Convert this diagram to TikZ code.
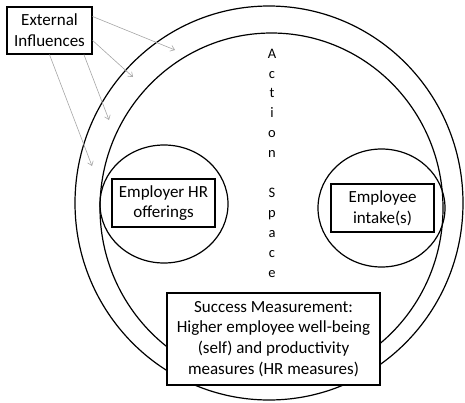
\documentclass[tikz,border=0pt]{standalone}
\usepackage{fontspec}
\setmainfont{Carlito}
\usetikzlibrary{arrows.meta}

\begin{document}
\begin{tikzpicture}[x=1pt,y=-1pt,
    every node/.style={font=\fontsize{17}{20.7}\selectfont},
    box/.style={draw, line width=1.2pt, fill=white, align=center, inner sep=0pt},
    ring/.style={line width=1.2pt},
    influence/.style={-{Straight Barb[length=4pt,width=6pt]}, draw=black!35, line width=0.6pt}]

    \useasboundingbox (0,0) rectangle (465,402);

    % outer and inner rings
    \draw[ring] (269,203) ellipse [x radius=194, y radius=197];
    \draw[ring] (271.5,208) ellipse [x radius=171.5, y radius=175];

    % employer and employee circles
    \draw[ring] (164,204) ellipse [x radius=64, y radius=59];
    \draw[ring] (381.5,208) ellipse [x radius=63.5, y radius=59];

    \node[box, minimum width=103pt, minimum height=48pt] (employer) at (163.5,203)
      {Employer HR\\offerings};
    \node[box, minimum width=103pt, minimum height=48pt] (employee) at (382.5,208)
      {Employee\\intake(s)};

    % action space
    \node[align=center, inner sep=0pt, font=\fontsize{14.5}{19.9}\selectfont] (action) at (272,163)
      {A\\c\\t\\i\\o\\n\\\mbox{}\\S\\p\\a\\c\\e};

    % success measurement
    \node[box, minimum width=213pt, minimum height=92pt] (success) at (273.5,339)
      {Success Measurement:\\Higher employee well-being\\(self) and productivity\\measures (HR measures)};

    % external influences
    \node[box, minimum width=85pt, minimum height=47pt] (external) at (49.5,30.5)
      {External\\Influences};

    \coordinate (hit1) at (175,50);
    \coordinate (hit2) at (133,77);
    \coordinate (hit3) at (109,120);
    \coordinate (hit4) at (92,166);

    \draw[influence] (external.18) -- (hit1);
    \draw[influence] (external.-13) -- (hit2);
    \draw[influence] (external.-35) -- (hit3);
    \draw[influence] (external.south) -- (hit4);

\end{tikzpicture}
\end{document}
